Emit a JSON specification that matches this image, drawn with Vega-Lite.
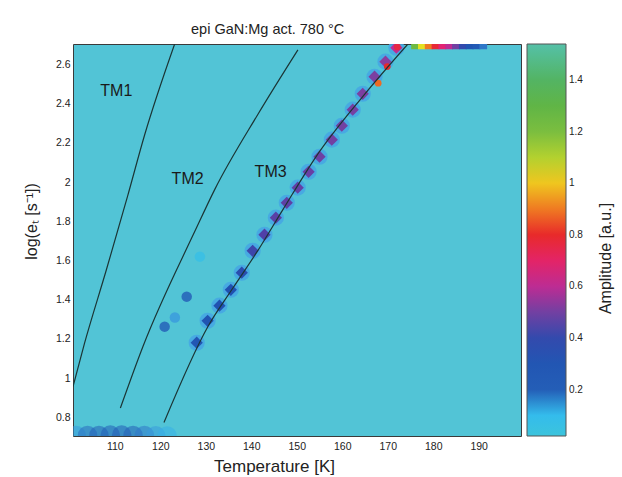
{
  "$schema": "https://vega.github.io/schema/vega-lite/v6.json",
  "autosize": "none",
  "padding": {"left": 73, "top": 44, "right": 101, "bottom": 41},
  "width": 448,
  "height": 392,
  "background": "white",
  "view": {"fill": "#52c4d6", "stroke": "#3a3a3a", "strokeWidth": 1},
  "config": {
    "font": "Liberation Sans",
    "axis": {"labelColor": "#222", "titleColor": "#222", "labelFont": "Liberation Sans", "titleFont": "Liberation Sans", "titleFontWeight": "normal", "grid": false, "ticks": false, "domain": false},
    "legend": {"labelFont": "Liberation Sans", "titleFont": "Liberation Sans"}
  },
  "title": {"text": "epi GaN:Mg act. 780 °C", "anchor": "start", "frame": "group", "dx": 118, "offset": 7, "fontSize": 14.5, "fontWeight": "normal", "color": "#222", "font": "Liberation Sans"},
  "datasets": {
    "lines": [
      {"curve": "TM1", "T": 100.8, "loge": 0.957},
      {"curve": "TM1", "T": 103.37, "loge": 1.181},
      {"curve": "TM1", "T": 108.14, "loge": 1.553},
      {"curve": "TM1", "T": 112.82, "loge": 1.93},
      {"curve": "TM1", "T": 116.56, "loge": 2.242},
      {"curve": "TM1", "T": 123.15, "loge": 2.705},
      {"curve": "TM2", "T": 111.22, "loge": 0.848},
      {"curve": "TM2", "T": 116.18, "loge": 1.162},
      {"curve": "TM2", "T": 127.77, "loge": 1.758},
      {"curve": "TM2", "T": 131.95, "loge": 1.962},
      {"curve": "TM2", "T": 141.4, "loge": 2.344},
      {"curve": "TM2", "T": 150.25, "loge": 2.675},
      {"curve": "TM3", "T": 120.8, "loge": 0.774},
      {"curve": "TM3", "T": 130.47, "loge": 1.264},
      {"curve": "TM3", "T": 135.96, "loge": 1.46},
      {"curve": "TM3", "T": 141.11, "loge": 1.639},
      {"curve": "TM3", "T": 146.95, "loge": 1.86},
      {"curve": "TM3", "T": 154.29, "loge": 2.132},
      {"curve": "TM3", "T": 164.54, "loge": 2.438},
      {"curve": "TM3", "T": 174.43, "loge": 2.705}
    ],
    "labels": [
      {"label": "TM1", "T": 110.33, "loge": 2.463},
      {"label": "TM2", "T": 126.0, "loge": 2.018},
      {"label": "TM3", "T": 144.25, "loge": 2.051}
    ],
    "blobs": [
      {"T": 128.0, "loge": 1.181, "amp": 0.3},
      {"T": 130.4, "loge": 1.293, "amp": 0.33},
      {"T": 133.0, "loge": 1.37, "amp": 0.35},
      {"T": 135.5, "loge": 1.451, "amp": 0.37},
      {"T": 137.9, "loge": 1.538, "amp": 0.39},
      {"T": 140.3, "loge": 1.65, "amp": 0.41},
      {"T": 142.9, "loge": 1.732, "amp": 0.43},
      {"T": 145.4, "loge": 1.819, "amp": 0.45},
      {"T": 147.8, "loge": 1.895, "amp": 0.46},
      {"T": 150.2, "loge": 1.972, "amp": 0.47},
      {"T": 152.6, "loge": 2.053, "amp": 0.48},
      {"T": 155.0, "loge": 2.13, "amp": 0.49},
      {"T": 157.7, "loge": 2.217, "amp": 0.5},
      {"T": 159.9, "loge": 2.288, "amp": 0.5},
      {"T": 162.3, "loge": 2.37, "amp": 0.51},
      {"T": 164.5, "loge": 2.451, "amp": 0.52},
      {"T": 167.1, "loge": 2.538, "amp": 0.52},
      {"T": 169.5, "loge": 2.615, "amp": 0.54},
      {"T": 171.9, "loge": 2.686, "amp": 0.6}
    ],
    "peaks": [
      {"T": 167.9, "loge": 2.505, "amp": 0.88},
      {"T": 169.9, "loge": 2.59, "amp": 0.8},
      {"T": 172.1, "loge": 2.69, "amp": 0.76}
    ],
    "floor": [
      {"T": 101.5, "loge": 0.708, "amp": 0.13},
      {"T": 104.0, "loge": 0.708, "amp": 0.17},
      {"T": 106.5, "loge": 0.708, "amp": 0.2},
      {"T": 109.0, "loge": 0.71, "amp": 0.23},
      {"T": 111.5, "loge": 0.71, "amp": 0.24},
      {"T": 114.0, "loge": 0.708, "amp": 0.2},
      {"T": 116.5, "loge": 0.708, "amp": 0.16},
      {"T": 119.0, "loge": 0.706, "amp": 0.13},
      {"T": 121.5, "loge": 0.705, "amp": 0.11}
    ],
    "spots": [
      {"T": 125.8, "loge": 1.416, "amp": 0.24},
      {"T": 120.95, "loge": 1.263, "amp": 0.22},
      {"T": 123.2, "loge": 1.31, "amp": 0.13},
      {"T": 128.7, "loge": 1.62, "amp": 0.07}
    ],
    "strip": [
      {"T": 176.0, "loge": 2.698, "amp": 1.25},
      {"T": 177.5, "loge": 2.698, "amp": 1.05},
      {"T": 179.0, "loge": 2.698, "amp": 0.9},
      {"T": 180.5, "loge": 2.698, "amp": 0.78},
      {"T": 182.0, "loge": 2.698, "amp": 0.68},
      {"T": 183.5, "loge": 2.698, "amp": 0.6},
      {"T": 185.0, "loge": 2.698, "amp": 0.5},
      {"T": 186.5, "loge": 2.698, "amp": 0.4},
      {"T": 188.0, "loge": 2.698, "amp": 0.32},
      {"T": 189.5, "loge": 2.698, "amp": 0.25},
      {"T": 191.0, "loge": 2.698, "amp": 0.16}
    ]
  },
  "encoding": {
    "x": {"field": "T", "type": "quantitative", "scale": {"domain": [100.8, 199.3], "nice": false, "zero": false},
      "axis": {"values": [110, 120, 130, 140, 150, 160, 170, 180, 190], "labelFontSize": 10.5, "labelPadding": 5, "title": "Temperature  [K]", "titleFontSize": 17, "titleX": 201, "titleY": 30, "titleAnchor": null, "titleAlign": "center", "titleBaseline": "middle"}},
    "y": {"field": "loge", "type": "quantitative", "scale": {"domain": [0.705, 2.705], "nice": false, "zero": false},
      "axis": {"values": [0.8, 1, 1.2, 1.4, 1.6, 1.8, 2, 2.2, 2.4, 2.6], "format": "~g", "labelFontSize": 10.5, "labelPadding": 3, "title": "log(eₜ  [s⁻¹])", "titleFontSize": 16, "titleX": -42, "titleY": 177, "titleAngle": 270, "titleAlign": "center", "titleBaseline": "middle"}}
  },
  "layer": [
    {
      "layer": [
        {
          "data": {"name": "strip"},
          "mark": {"type": "point", "shape": "square", "filled": true, "size": 60, "opacity": 1, "clip": true},
          "encoding": {"color": {"field": "amp", "type": "quantitative",
            "scale": {"interpolate": "rgb", "domain": [0.02, 0.1, 0.14, 0.18, 0.38, 0.43, 0.53, 0.64, 0.8, 0.92, 1.04, 1.14, 1.35, 1.54],
                      "range": ["#3cc4dc", "#34bcec", "#3a8ed8", "#2460b8", "#2050b0", "#5040a8", "#8040a0", "#e0208c", "#e82a2a", "#f08a20", "#eee41e", "#8cc43a", "#52b04a", "#55c0a8"]},
            "legend": {"orient": "none", "legendX": 454, "legendY": 0, "padding": 0, "gradientLength": 392, "gradientThickness": 39, "gradientStrokeColor": "#555", "gradientStrokeWidth": 1, "values": [0.2, 0.4, 0.6, 0.8, 1, 1.2, 1.4], "format": "~g", "labelFontSize": 10, "labelColor": "#222", "labelOffset": 3, "title": null,
              "encode": {"gradient": {"update": {"opacity": {"value": 1}}}}}}}
        },
        {
          "data": {"name": "floor"},
          "mark": {"type": "point", "shape": "circle", "filled": true, "size": 380, "opacity": 0.55, "clip": true},
          "encoding": {"color": {"field": "amp", "type": "quantitative"}}
        },
        {
          "data": {"name": "spots"},
          "mark": {"type": "point", "shape": "circle", "filled": true, "size": 110, "opacity": 0.8, "clip": true},
          "encoding": {"color": {"field": "amp", "type": "quantitative"}}
        },
        {
          "data": {"name": "blobs"},
          "mark": {"type": "point", "shape": "circle", "filled": true, "size": 260, "opacity": 0.85, "color": "#45a6e4", "clip": true},
          "encoding": {}
        },
        {
          "data": {"name": "blobs"},
          "mark": {"type": "point", "shape": "diamond", "filled": true, "size": 150, "opacity": 1, "clip": true},
          "encoding": {"color": {"field": "amp", "type": "quantitative"}}
        },
        {
          "data": {"name": "peaks"},
          "mark": {"type": "point", "shape": "circle", "filled": true, "size": 45, "opacity": 1, "clip": true},
          "encoding": {"color": {"field": "amp", "type": "quantitative"}}
        },
        {
          "data": {"name": "lines"},
          "mark": {"type": "line", "color": "#1b3535", "strokeWidth": 1.2, "interpolate": "monotone", "clip": true},
          "encoding": {"detail": {"field": "curve"}}
        }
      ]
    },
    {
      "data": {"name": "labels"},
      "mark": {"type": "text", "fontSize": 16, "color": "#1a1a1a", "font": "Liberation Sans"},
      "encoding": {
        "text": {"field": "label"},
        "y": {"field": "loge", "type": "quantitative", "scale": {"domain": [0.705, 2.705], "nice": false, "zero": false},
          "axis": {"orient": "right", "labels": false, "ticks": false, "domain": false, "grid": false, "title": "Amplitude [a.u.]", "titleFontSize": 16, "titleX": 84, "titleY": 214, "titleAngle": 270, "titleAlign": "center", "titleBaseline": "middle"}}
      }
    }
  ],
  "resolve": {"scale": {"y": "independent"}}
}
